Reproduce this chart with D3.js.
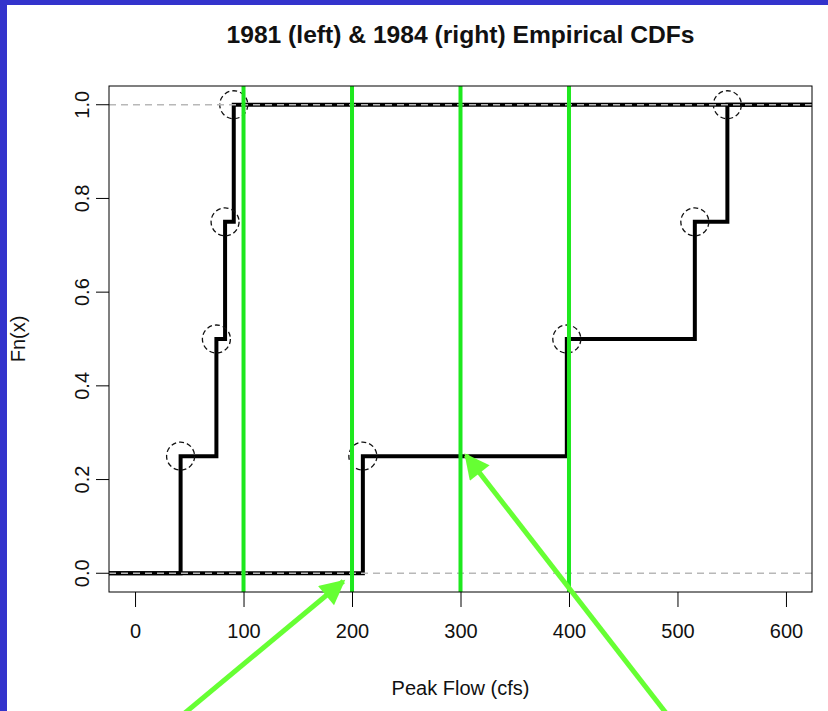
<!DOCTYPE html>
<html>
<head>
<meta charset="utf-8">
<script src="https://cdn.jsdelivr.net/npm/d3@7"></script>
<style>
  body { margin: 0; background: #fff; }
  svg { display: block; }
  text { font-family: "Liberation Sans Narrow", "Liberation Sans", Arial, sans-serif; fill: #111; }
</style>
</head>
<body>
<svg width="828" height="711"></svg>
<script>
// peak flows (cfs) for the two years
const flows1981 = [42, 75, 83, 91];
const flows1984 = [210, 398, 516, 546];
const xTicks = [0, 100, 200, 300, 400, 500, 600];
const yTicks = [0, 0.2, 0.4, 0.6, 0.8, 1.0];
const refLines = [100, 200, 300, 400];   // green verticals
// annotation arrows in data units: [x0, y0, x1, y1], tip at the end
const arrows = [
    [45, -0.30, 192, -0.017],
    [490, -0.30, 305, 0.252]
];

const svg = d3.select("svg");
const margin = {top: 86, right: 16, bottom: 119, left: 109};
const W = 828, H = 711;
const width = W - margin.left - margin.right;
const height = H - margin.top - margin.bottom;
const fontFam = "Liberation Sans Narrow, Liberation Sans, Arial, sans-serif";

// blue slide frame on top and left
svg.append("rect").attr("x", 0).attr("y", 0).attr("width", W).attr("height", 5).attr("fill", "#3333cc");
svg.append("rect").attr("x", 0).attr("y", 0).attr("width", 7).attr("height", H).attr("fill", "#3333cc");

const x = d3.scaleLinear().domain([-24, 624]).range([margin.left, margin.left + width]);
const y = d3.scaleLinear().domain([-0.04, 1.04]).range([margin.top + height, margin.top]);

svg.append("defs").append("clipPath").attr("id", "clip")
    .append("rect")
    .attr("x", margin.left).attr("y", margin.top)
    .attr("width", width).attr("height", height);

// ecdf steps: start at left edge with 0, end at right edge with 1
function ecdfPoints(vals) {
    const n = vals.length;
    const pts = [[-24, 0]];
    vals.forEach((v, i) => pts.push([v, (i + 1) / n]));
    pts.push([624, 1]);
    return pts;
}

const step = d3.line()
    .x(d => x(d[0]))
    .y(d => y(d[1]))
    .curve(d3.curveStepAfter);

const plot = svg.append("g").attr("clip-path", "url(#clip)");

[flows1981, flows1984].forEach(vals => {
    plot.append("path")
        .attr("d", step(ecdfPoints(vals)))
        .attr("fill", "none")
        .attr("stroke", "#000")
        .attr("stroke-width", 4);

    plot.selectAll(null)
        .data(vals)
        .enter()
        .append("circle")
        .attr("cx", d => x(d))
        .attr("cy", (d, i) => y((i + 1) / vals.length))
        .attr("r", 14)
        .attr("fill", "none")
        .attr("stroke", "#111")
        .attr("stroke-width", 1.3)
        .attr("stroke-dasharray", "5,3");
});

// gray dashed lines at 0 and 1
plot.selectAll(null)
    .data([0, 1])
    .enter()
    .append("line")
    .attr("x1", margin.left).attr("x2", margin.left + width)
    .attr("y1", d => y(d)).attr("y2", d => y(d))
    .attr("stroke", "#b8b8b8")
    .attr("stroke-width", 1.6)
    .attr("stroke-dasharray", "7,5");

// green reference lines
plot.selectAll(null)
    .data(refLines)
    .enter()
    .append("line")
    .attr("x1", d => x(d)).attr("x2", d => x(d))
    .attr("y1", margin.top).attr("y2", margin.top + height)
    .attr("stroke", "#1ee81e")
    .attr("stroke-width", 4);

// box
svg.append("rect")
    .attr("x", margin.left).attr("y", margin.top)
    .attr("width", width).attr("height", height)
    .attr("fill", "none").attr("stroke", "#000").attr("stroke-width", 1);

// axes
const xAxis = svg.append("g")
    .attr("transform", `translate(0,${margin.top + height})`)
    .call(d3.axisBottom(x).tickValues(xTicks).tickSize(15).tickPadding(17).tickSizeOuter(0));
xAxis.select(".domain").remove();
xAxis.selectAll("text").attr("font-size", 20).attr("font-family", fontFam);

const yAxis = svg.append("g")
    .attr("transform", `translate(${margin.left},0)`)
    .call(d3.axisLeft(y).tickValues(yTicks).tickFormat(d3.format(".1f")).tickSize(13).tickSizeOuter(0));
yAxis.select(".domain").remove();
yAxis.selectAll("text")
    .attr("font-size", 20)
    .attr("font-family", fontFam)
    .attr("text-anchor", "middle")
    .attr("x", 0).attr("dy", 0)
    .attr("transform", d => `translate(-20,${y(d)}) rotate(-90)`)
    .attr("y", 0);
yAxis.selectAll(".tick").attr("transform", null);
yAxis.selectAll(".tick line").attr("y1", d => y(d)).attr("y2", d => y(d));

// titles
svg.append("text")
    .attr("x", margin.left + width / 2).attr("y", 43)
    .attr("text-anchor", "middle")
    .attr("font-size", 23).attr("font-weight", "bold")
    .attr("textLength", 468).attr("lengthAdjust", "spacingAndGlyphs")
    .text("1981 (left) & 1984 (right) Empirical CDFs");

svg.append("text")
    .attr("x", margin.left + width / 2).attr("y", 695)
    .attr("text-anchor", "middle")
    .attr("font-size", 20)
    .text("Peak Flow (cfs)");

svg.append("text")
    .attr("transform", `translate(25,${margin.top + height / 2}) rotate(-90)`)
    .attr("text-anchor", "middle")
    .attr("font-size", 20)
    .text("Fn(x)");

// annotation arrows
svg.append("defs").append("marker")
    .attr("id", "head")
    .attr("viewBox", "0 0 10 10")
    .attr("refX", 9).attr("refY", 5)
    .attr("markerWidth", 6).attr("markerHeight", 5)
    .attr("markerUnits", "strokeWidth")
    .attr("orient", "auto")
    .append("path").attr("d", "M0,0 L10,5 L0,10 Z").attr("fill", "#66ff33");

svg.selectAll(null)
    .data(arrows)
    .enter()
    .append("line")
    .attr("x1", d => x(d[0])).attr("y1", d => y(d[1]))
    .attr("x2", d => x(d[2])).attr("y2", d => y(d[3]))
    .attr("stroke", "#66ff33")
    .attr("stroke-width", 5)
    .attr("marker-end", "url(#head)");
</script>
</body>
</html>
